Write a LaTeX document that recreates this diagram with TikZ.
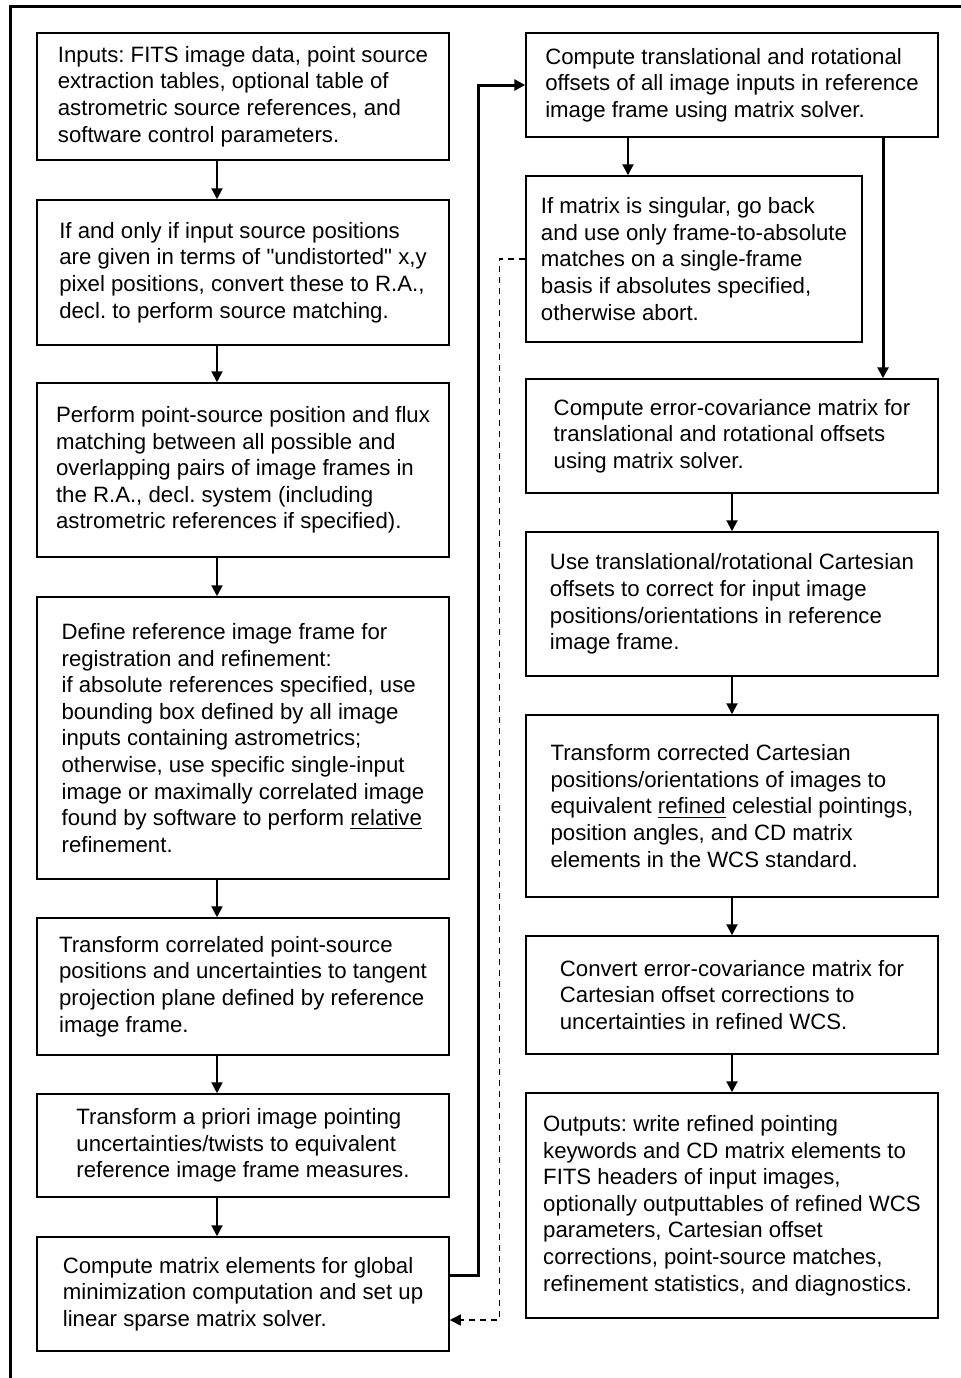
\documentclass[tikz,border=0pt]{standalone}
\usepackage{fontspec}
\setmainfont{Liberation Sans}[Ligatures=TeXOff]
\usetikzlibrary{arrows.meta, positioning}
\frenchspacing

\begin{document}
\begin{tikzpicture}[x=0.5pt, y=-0.5pt,
    stepbox/.style={rectangle, draw, line width=0.75pt, align=left, minimum width=206pt,
        font=\fontsize{11.1}{13.3}\selectfont},
    flow/.style={-{Triangle[length=5.5pt, width=5.5pt]}, line width=1pt},
    jump/.style={-{Triangle[length=5.5pt, width=5.5pt]}, line width=1.5pt},
    retry/.style={-{Triangle[length=5.5pt, width=5.5pt]}, line width=0.75pt, dash pattern=on 3pt off 2.5pt}]
    \useasboundingbox (0,0) rectangle (961,1378);
    % frame
    \draw[line width=1.5pt] (10.5,1378) -- (10.5,6.5) -- (961,6.5);

    % left column
    \node[stepbox, minimum height=63.5pt] (inputs) at (243,96.5) {
        Inputs: FITS image data, point source\\
        extraction tables, optional table of\\
        astrometric source references, and\\
        software control parameters.
    };
    \node[stepbox, minimum height=72.5pt] (convert) at (243,272.5) {
        If and only if input source positions\\
        are given in terms of "undistorted" x,y\\
        pixel positions, convert these to R.A.,\\
        decl. to perform source matching.
    };
    \node[stepbox, minimum height=87pt] (match) at (243,470) {
        Perform point-source position and flux\\
        matching between all possible and\\
        overlapping pairs of image frames in\\
        the R.A., decl. system (including\\
        astrometric references if specified).
    };
    \node[stepbox, minimum height=141pt] (refframe) at (243,738) {
        Define reference image frame for\\
        registration and refinement:\\
        if absolute references specified, use\\
        bounding box defined by all image\\
        inputs containing astrometrics;\\
        otherwise, use specific single-input\\
        image or maximally correlated image\\
        found by software to perform \underline{relative}\\
        refinement.
    };
    \node[stepbox, minimum height=68.5pt] (tangent) at (243,986.5) {
        Transform correlated point-source\\
        positions and uncertainties to tangent\\
        projection plane defined by reference\\
        image frame.
    };
    \node[stepbox, minimum height=51.5pt] (apriori) at (243,1145.5) {
        Transform a priori image pointing\\
        uncertainties/twists to equivalent\\
        reference image frame measures.
    };
    \node[stepbox, minimum height=57pt] (elements) at (243,1294) {
        Compute matrix elements for global\\
        minimization computation and set up\\
        linear sparse matrix solver.
    };

    % right column
    \node[stepbox, minimum height=52pt] (offsets) at (732,85) {
        Compute translational and rotational\\
        offsets of all image inputs in reference\\
        image frame using matrix solver.
    };
    \node[stepbox, minimum width=168pt, minimum height=83pt] (singular) at (694,259) {
        If matrix is singular, go back\\
        and use only frame-to-absolute\\
        matches on a single-frame\\
        basis if absolutes specified,\\
        otherwise abort.
    };
    \node[stepbox, minimum height=57pt] (covar) at (732,436) {
        Compute error-covariance matrix for\\
        translational and rotational offsets\\
        using matrix solver.
    };
    \node[stepbox, minimum height=72pt] (correct) at (732,604) {
        Use translational/rotational Cartesian\\
        offsets to correct for input image\\
        positions/orientations in reference\\
        image frame.
    };
    \node[stepbox, minimum height=91pt] (celestial) at (732,806) {
        Transform corrected Cartesian\\
        positions/orientations of images to\\
        equivalent \underline{refined} celestial pointings,\\
        position angles, and CD matrix\\
        elements in the WCS standard.
    };
    \node[stepbox, minimum height=59pt] (uncert) at (732,995) {
        Convert error-covariance matrix for\\
        Cartesian offset corrections to\\
        uncertainties in refined WCS.
    };
    \node[stepbox, minimum height=112.5pt] (outputs) at (732,1205.5) {
        Outputs: write refined pointing\\
        keywords and CD matrix elements to\\
        FITS headers of input images,\\
        optionally outputtables of refined WCS\\
        parameters, Cartesian offset\\
        corrections, point-source matches,\\
        refinement statistics, and diagnostics.
    };

    % arrows
    \foreach \a/\b in {inputs/convert, convert/match, match/refframe, refframe/tangent, tangent/apriori, apriori/elements}
        \draw[flow] ([xshift=-13pt]\a.south) -- ([xshift=-13pt]\b.north);
    \foreach \a/\b in {covar/correct, correct/celestial, celestial/uncert, uncert/outputs}
        \draw[flow] (\a) -- (\b);
    \draw[flow] ([xshift=-52pt]offsets.south) -- ([xshift=-52pt]offsets.south |- singular.north);
    \draw[jump] ([xshift=75.5pt]offsets.south) -- ([xshift=75.5pt]covar.north);
    \draw[jump] ([yshift=9.5pt]elements.east) -- ++(14.5pt,0) |- (offsets.west);
    \draw[retry] (singular.west) -- ++(-13pt,0) |- ([yshift=-13pt]elements.east);
\end{tikzpicture}
\end{document}
